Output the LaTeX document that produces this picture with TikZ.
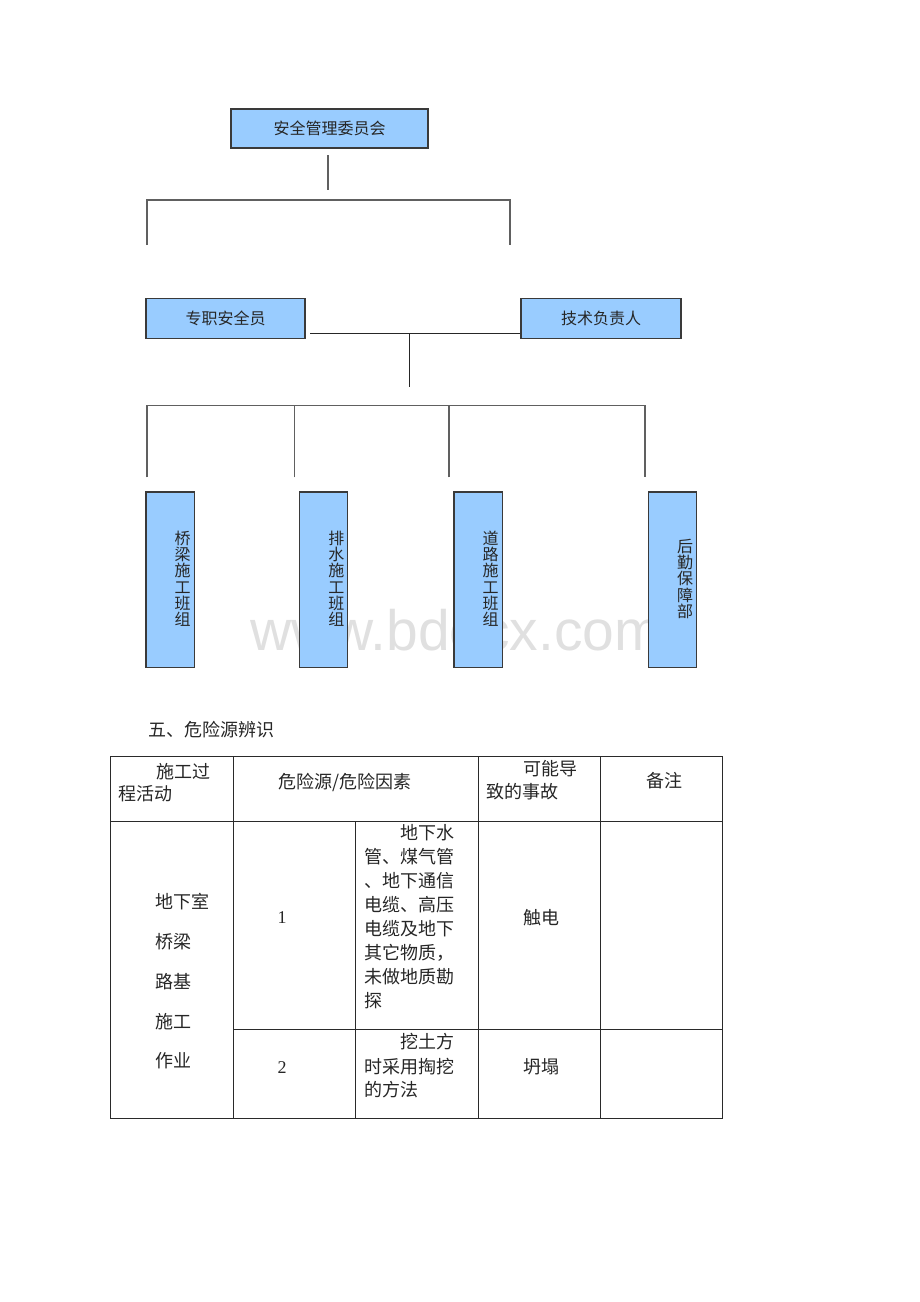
\documentclass[tikz,border=0pt]{standalone}
\usepackage{fontspec}
\newfontfamily\cjk{Noto Sans CJK SC}
\newfontfamily\wmfont{Liberation Sans}
\newfontfamily\numfont{Liberation Serif}
\usetikzlibrary{calc}
\definecolor{boxfill}{HTML}{99CCFF}
\definecolor{boxborder}{HTML}{3A3A3A}
\definecolor{linegray}{HTML}{606060}
\definecolor{wmgray}{HTML}{E0E0E0}
\definecolor{tablegray}{HTML}{2A2A2A}
\tikzset{
  orgbox/.style={draw=boxborder, fill=boxfill, line width=1.2pt, inner sep=0pt,
    font=\cjk\fontsize{16}{18}\selectfont, text=black!85},
  vbox/.style={draw=boxborder, fill=boxfill, line width=1.2pt, inner sep=0pt,
    minimum width=48.5pt, minimum height=175.5pt},
  vtext/.style={inner sep=0pt, align=center, font=\cjk\fontsize{16}{16.3}\selectfont, text=black!85},
  conn/.style={draw=linegray, line width=1.3pt},
  connk/.style={draw=black!85, line width=1.3pt},
  tline/.style={draw=tablegray, line width=0.9pt},
  tt/.style={inner sep=0pt, anchor=west, font=\cjk\fontsize{18}{24}\selectfont, text=black!85},
  tn/.style={inner sep=0pt, anchor=center, font=\numfont\fontsize{18}{24}\selectfont, text=black!85},
}
\begin{document}
\begin{tikzpicture}[x=1pt, y=-1pt]
\useasboundingbox (0,0) rectangle (920,1302);

% watermark (behind boxes)
\node[anchor=base west, inner sep=0pt, font=\wmfont\fontsize{57}{57}\selectfont, text=wmgray] (wm) at (250,650) {www.bdocx.com};

% ---- org chart ----
\node[orgbox, minimum width=197pt, minimum height=39pt] (anquan) at (329.5,128.5) {安全管理委员会};
\node[orgbox, minimum width=159pt, minimum height=40pt] (zhuanzhi) at (225.5,318.3) {专职安全员};
\node[orgbox, minimum width=160pt, minimum height=40pt] (jishu) at (601,318.3) {技术负责人};

\coordinate (v1a) at (328,155);
\coordinate (v1b) at (328,190);
\draw[conn] (v1a) -- (v1b);
\coordinate (b1l) at (147,245);
\coordinate (b1r) at (510,245);
\draw[conn] (b1l) -- ++(0,-45) -| (b1r);

\coordinate (h1) at (310,333.3);
\draw[connk] (h1) -- (h1 -| jishu.west);
\coordinate (v2a) at (409.7,333.3);
\coordinate (v2b) at (409.7,386.7);
\draw[connk] (v2a) -- (v2b);

\coordinate (b2a) at (147,477.3);
\coordinate (b2b) at (294.3,477.3);
\coordinate (b2c) at (449,477.3);
\coordinate (b2d) at (645,477.3);
\draw[conn] (b2a) -- ++(0,-71.6) -| (b2d);
\draw[conn] (b2b) -- ++(0,-71.6);
\draw[conn] (b2c) -- ++(0,-71.6);

\node[vbox] (q1) at (170.2,579.8) {};
\node[vbox] (q2) at (323.5,579.8) {};
\node[vbox] (q3) at (478.3,579.8) {};
\node[vbox] (q4) at (672.5,579.8) {};
\node[vtext] (q1t) at ($(q1.center)+(12.5,-1)$) {桥\\梁\\施\\工\\班\\组};
\node[vtext] (q2t) at ($(q2.center)+(12.8,-1)$) {排\\水\\施\\工\\班\\组};
\node[vtext] (q3t) at ($(q3.center)+(12.3,-1)$) {道\\路\\施\\工\\班\\组};
\node[vtext] (q4t) at ($(q4.center)+(12.5,-1)$) {后\\勤\\保\\障\\部};

% ---- section title ----
\node[tt] (title) at (148,730) {五、危险源辨识};

% ---- table ----
\draw[tline] (110,756) rectangle (722,1118);
\draw[tline] (110,821) -- (722,821);
\draw[tline] (233,1029) -- (722,1029);
\draw[tline] (233,756) -- (233,1118);
\draw[tline] (355,821) -- (355,1118);
\draw[tline] (478,756) -- (478,1118);
\draw[tline] (600,756) -- (600,1118);

% header
\node[tt] (h11) at (156,771.5) {施工过};
\node[tt] (h12) at (118,794) {程活动};
\node[tt] (h2) at (278,782) {危险源/危险因素};
\node[tt] (h31) at (523,769) {可能导};
\node[tt] (h32) at (486,792) {致的事故};
\node[tt] (h4) at (646.5,781) {备注};

% column 1
\node[tt] (c1a) at (155,902) {地下室};
\node[tt] (c1b) at (155,942) {桥梁};
\node[tt] (c1c) at (155,982) {路基};
\node[tt] (c1d) at (155,1022) {施工};
\node[tt] (c1e) at (155,1061) {作业};

% row 1
\node[tn] (n1) at (282,918) {1};
\node[tt] (r1a) at (400,833) {地下水};
\node[tt] (r1b) at (364,857) {管、煤气管};
\node[tt] (r1c) at (364,881) {、地下通信};
\node[tt] (r1d) at (364,905) {电缆、高压};
\node[tt] (r1e) at (364,929) {电缆及地下};
\node[tt] (r1f) at (364,953) {其它物质，};
\node[tt] (r1g) at (364,977) {未做地质勘};
\node[tt] (r1h) at (364,1001) {探};
\node[tt] (r1k) at (523,918) {触电};

% row 2
\node[tn] (n2) at (282,1068) {2};
\node[tt] (r2a) at (400,1042) {挖土方};
\node[tt] (r2b) at (364,1066.5) {时采用掏挖};
\node[tt] (r2c) at (364,1090) {的方法};
\node[tt] (r2k) at (523,1066.5) {坍塌};
\end{tikzpicture}
\end{document}
